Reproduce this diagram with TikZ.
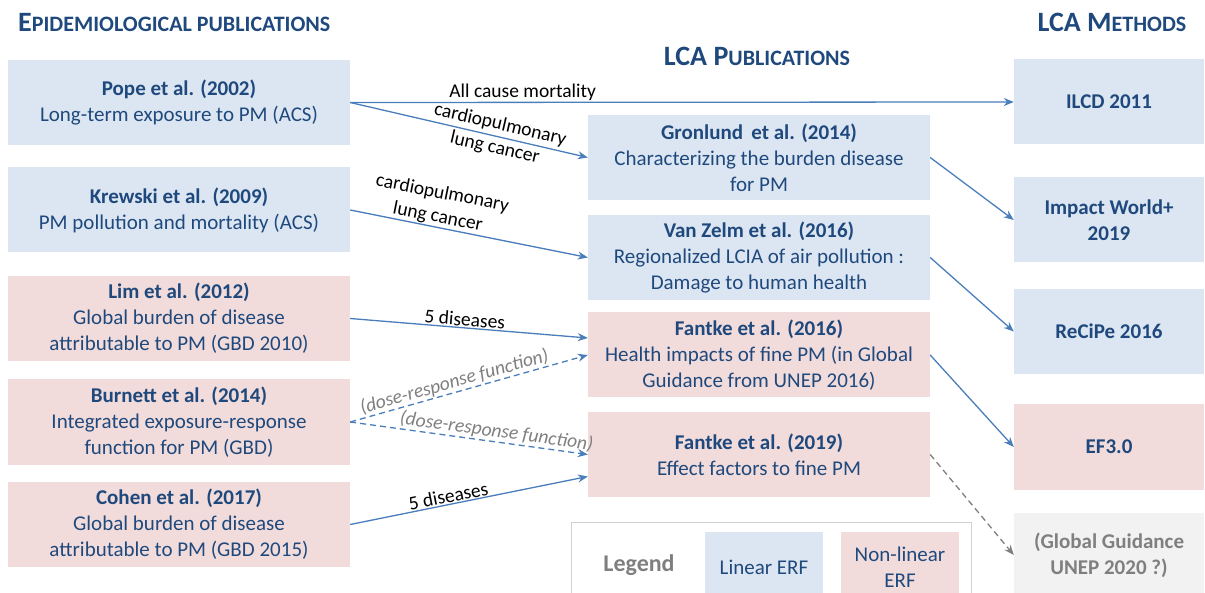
\documentclass[tikz,border=0pt]{standalone}
\usepackage{fontspec}
\setmainfont{Carlito}
\usepackage{xcolor}
\usetikzlibrary{arrows.meta,positioning}

\definecolor{boxblue}{HTML}{DCE6F2}
\definecolor{boxpink}{HTML}{F2DCDB}
\definecolor{boxgray}{HTML}{F2F2F2}
\definecolor{inkblue}{HTML}{1F497D}
\definecolor{linkblue}{HTML}{4A7EBB}
\definecolor{inkgray}{HTML}{7F7F7F}

% fake small caps for the column titles
\newcommand{\capstitle}[2]{{\fontsize{28}{28}\selectfont\bfseries #1}{\fontsize{22}{22}\selectfont\bfseries #2}}

\tikzset{
  pub/.style={rectangle, inner sep=0pt, align=center, text=inkblue,
    minimum height=85pt, font=\fontsize{21}{26}\selectfont},
  linbox/.style={pub, fill=boxblue, minimum width=342pt},
  nlbox/.style={pub, fill=boxpink, minimum width=342pt},
  methblue/.style={pub, fill=boxblue, minimum width=190pt, font=\fontsize{21}{26}\selectfont\bfseries},
  methpink/.style={methblue, fill=boxpink},
  methgray/.style={methblue, fill=boxgray, text=inkgray},
  flow/.style={draw=linkblue, line width=1.3pt, -{Stealth[length=10pt,width=8pt]}},
  doseflow/.style={flow, dash pattern=on 6pt off 4pt},
  guess/.style={draw=inkgray, line width=1.3pt, dash pattern=on 6pt off 4pt, -{Stealth[length=10pt,width=8pt]}},
  lbl/.style={font=\fontsize{19.5}{24}\selectfont, text=black, inner sep=1pt, align=center},
  doselbl/.style={lbl, text=inkgray, font=\fontsize{19.5}{24}\selectfont\itshape},
}

\begin{document}
\begin{tikzpicture}[x=1pt, y=-1pt]
    \useasboundingbox (0,0) rectangle (1205,593);
    % Titles
    \node (epihead) [anchor=base west, inner sep=0pt, text=inkblue] at (18,32) {\capstitle{E}{PIDEMIOLOGICAL PUBLICATIONS}};
    \node (pubhead) [anchor=base, inner sep=0pt, text=inkblue] at (757,66) {\capstitle{LCA P}{UBLICATIONS}};
    \node (methhead) [anchor=base, inner sep=0pt, text=inkblue] at (1112,32) {\capstitle{LCA M}{ETHODS}};
    % Epidemiological publications
    \node (pope) [linbox] at (179,102.5) {\textbf{Pope et al. (2002)}\\Long-term exposure to PM (ACS)};
    \node (krewski) [linbox] at (179,210) {\textbf{Krewski et al. (2009)}\\PM pollution and mortality (ACS)};
    \node (lim) [nlbox] at (179,318.5) {\textbf{Lim et al. (2012)}\\Global burden of disease\\attributable to PM (GBD 2010)};
    \node (burnett) [nlbox] at (179,422) {\textbf{Burnett et al. (2014)}\\Integrated exposure-response\\function for PM (GBD)};
    \node (cohen) [nlbox] at (179,524.5) {\textbf{Cohen et al. (2017)}\\Global burden of disease\\attributable to PM (GBD 2015)};
    % LCA publications
    \node (gronlund) [linbox] at (759,157.5) {\textbf{Gronlund\, et al. (2014)}\\Characterizing the burden disease\\for PM};
    \node (vanzelm) [linbox] at (759,257.5) {\textbf{Van Zelm et al. (2016)}\\Regionalized LCIA of air pollution :\\Damage to human health};
    \node (fantkeA) [nlbox] at (759,355) {\textbf{Fantke et al. (2016)}\\Health impacts of fine PM (in Global\\Guidance from UNEP 2016)};
    \node (fantkeB) [nlbox] at (759,454.5) {\textbf{Fantke et al. (2019)}\\Effect factors to fine PM};
    % LCA methods
    \node (ilcd) [methblue] at (1109,102) {ILCD 2011};
    \node (iwplus) [methblue] at (1109,220) {Impact World+\\2019};
    \node (recipe) [methblue] at (1109,331.5) {ReCiPe 2016};
    \node (efthree) [methpink] at (1109,447) {EF3.0};
    \node (unep) [methgray] at (1109,555) {(Global Guidance\\UNEP 2020 ?)};
    % Legend
    \node (legframe) [draw=black!18, line width=1pt, minimum width=400pt, minimum height=90pt, inner sep=0pt] at (771,567) {};
    \node (legtext) [text=inkgray, font=\fontsize{24}{24}\selectfont\bfseries] at (639,565) {Legend};
    \node (leglin) [pub, fill=boxblue, minimum width=118pt, minimum height=70pt] at (764,567) {Linear ERF};
    \node (legnonlin) [pub, fill=boxpink, minimum width=118pt, minimum height=70pt] at (900,567) {Non-linear\\ERF};
    % Arrows
    \draw[flow] (pope.east) -- node[lbl, sloped, above, pos=0.26] (allcause) {All cause mortality} (ilcd.west);
    \draw[flow] (pope.east) -- node[lbl, sloped, pos=0.62] (popecause) {cardiopulmonary\\lung cancer} (gronlund.west);
    \draw[flow] (krewski.east) -- node[lbl, sloped, above, pos=0.36] (krewcause) {cardiopulmonary\\lung cancer} (vanzelm.west);
    \draw[flow] (lim.east) -- node[lbl, sloped, above, pos=0.48] (limcause) {5 diseases} ([yshift=17pt]fantkeA.west);
    \draw[doseflow] (burnett.east) -- node[doselbl, sloped, above, pos=0.45] (doseA) {(dose-response function)} (fantkeA.west);
    \draw[doseflow] (burnett.east) -- node[doselbl, sloped, above, pos=0.61] (doseB) {(dose-response function)} (fantkeB.west);
    \draw[flow] (cohen.east) -- node[lbl, sloped, above, pos=0.42] (cohencause) {5 diseases} ([yshift=-22pt]fantkeB.west);
    \draw[flow] (gronlund.east) -- (iwplus.west);
    \draw[flow] (vanzelm.east) -- (recipe.west);
    \draw[flow] (fantkeA.east) -- (efthree.west);
    \draw[guess] (fantkeB.east) -- (unep.west);
\end{tikzpicture}
\end{document}
